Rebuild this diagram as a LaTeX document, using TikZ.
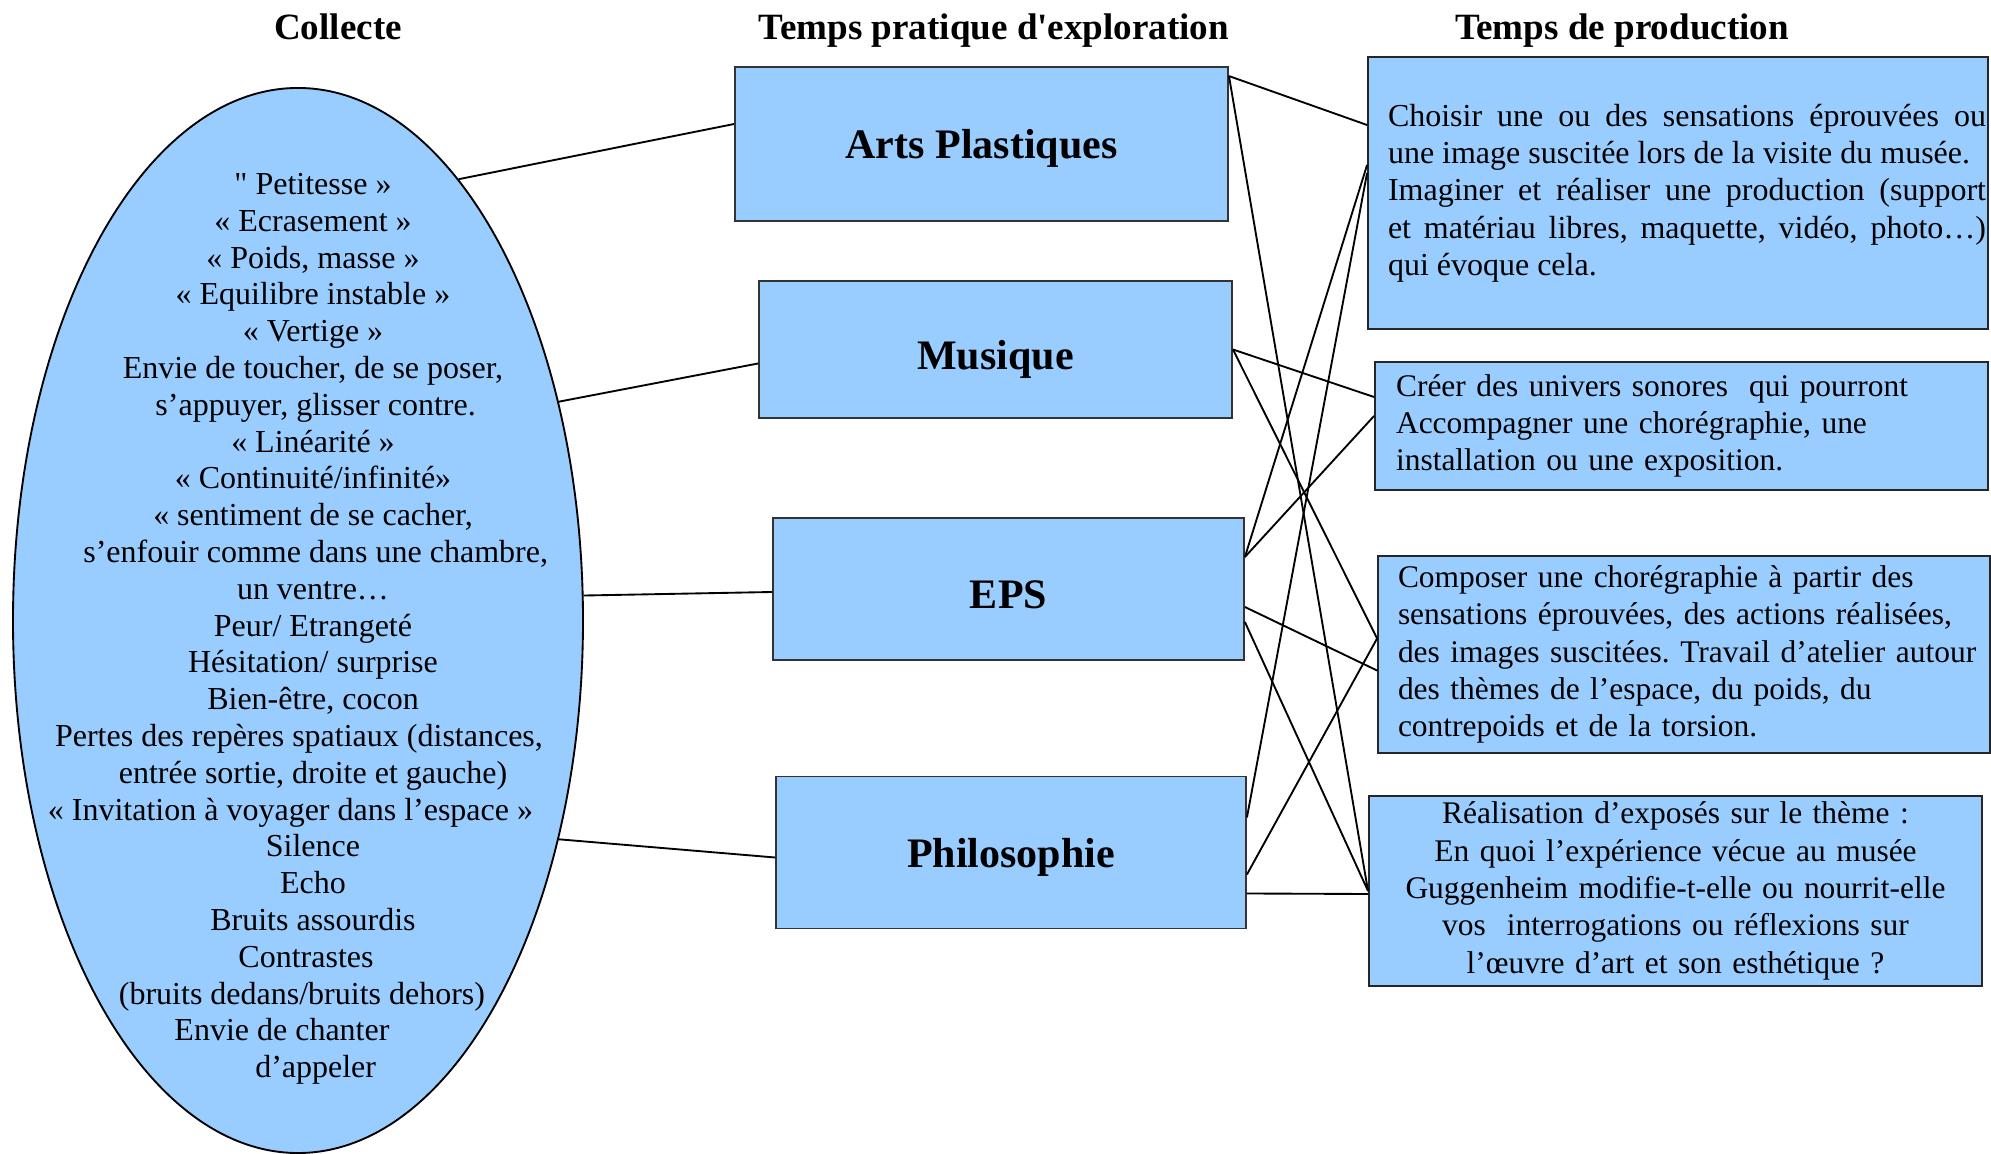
\documentclass[tikz,border=0pt]{standalone}
\usepackage{fontspec}
\setmainfont{Liberation Serif}[Ligatures=TeXOff]
\usetikzlibrary{shapes.geometric}
\definecolor{bleuciel}{HTML}{99CCFF}
\setlength{\parindent}{0pt}
\frenchspacing
\hyphenpenalty=10000

\begin{document}
\begin{tikzpicture}[x=0.375pt, y=-0.375pt,
        collecte/.style={ellipse, draw, fill=bleuciel, line width=0.7pt, minimum width=213.75pt, minimum height=399.4pt, inner sep=0pt},
        pratique/.style={rectangle, draw=black!80, fill=bleuciel, line width=0.7pt, inner sep=0pt, text depth=0pt, font=\fontsize{15.75}{18}\selectfont\bfseries},
        production/.style={rectangle, draw=black!85, fill=bleuciel, line width=0.7pt, inner sep=0pt, font=\fontsize{11.8}{14}\selectfont},
        entete/.style={anchor=base, inner sep=0pt, font=\fontsize{13.9}{16}\selectfont\bfseries},
        lien/.style={line width=0.7pt}]
    \useasboundingbox (0,0) rectangle (1991,1154);

    \node[entete] (tcoll) at (338,40) {Collecte};
    \node[entete] (texp) at (994,40) {Temps pratique d'exploration};
    \node[entete] (tprod) at (1622,40) {Temps de production};

    \node[collecte] (coll) at (298,620.5) {};
    \node[font=\fontsize{12}{13.8}\selectfont, align=center, inner sep=0pt] (colltxt) at (313,629) {" Petitesse »\\
        « Ecrasement »\\
        « Poids, masse »\\
        « Equilibre instable »\\
        « Vertige »\\
        Envie de toucher, de se poser,\\
        \kern2pt s’appuyer, glisser contre.\\
        « Linéarité »\\
        « Continuité/infinité»\\
        « sentiment de se cacher,\\
        \kern2pt s’enfouir comme dans une chambre,\\
        un ventre…\\
        Peur/ Etrangeté\\
        Hésitation/ surprise\\
        Bien-être, cocon\\
        Pertes des repères spatiaux (distances,\kern10.5pt\\
        entrée sortie, droite et gauche)\\
        « Invitation à voyager dans l’espace »\kern16.9pt\\
        Silence\\
        Echo\\
        Bruits assourdis\\
        Contrastes\kern5.25pt\\
        (bruits dedans/bruits dehors)\kern8.25pt\\
        Envie de chanter\kern23.25pt\\
        \kern2pt d’appeler};

    \node[pratique, minimum width=184.9pt, minimum height=57.75pt] (ap) at (981.5,144) {Arts Plastiques};
    \node[pratique, minimum width=177.4pt, minimum height=51.6pt, text height=15pt] (mus) at (995.5,349.5) {Musique};
    \node[pratique, minimum width=176.6pt, minimum height=53.4pt, text height=15pt] (eps) at (1008.5,589) {EPS};
    \node[pratique, minimum width=176.25pt, minimum height=57pt] (philo) at (1011,852.5) {Philosophie};

    \node[production, font=\fontsize{12}{14}\selectfont, minimum width=232.5pt, minimum height=102pt, text width=232.5pt, align=justify] (b1) at (1678,193)
        {\leftskip=7.5pt \rightskip=0.75pt Choisir une ou des sensations éprouvées ou\linebreak une image suscitée lors de la visite du musée.\par
        Imaginer et réaliser une production (support\linebreak et matériau libres, maquette, vidéo, photo…)\linebreak qui évoque cela.\par};
    \node[production, minimum width=229.9pt, minimum height=48pt, text width=229.9pt, align=left] (b2) at (1681.5,426)
        {\leftskip=7.9pt Créer des univers sonores~ qui pourront\\ Accompagner une chorégraphie, une\\ installation ou une exposition.\par};
    \node[production, minimum width=229.5pt, minimum height=73.9pt, text width=229.5pt, align=left] (b3) at (1684,654.5)
        {\leftskip=7.5pt Composer une chorégraphie à partir des\\ sensations éprouvées, des actions réalisées,\\ des images suscitées. Travail d’atelier autour\\ des thèmes de l’espace, du poids, du\\ contrepoids et de la torsion.\par};
    \node[production, minimum width=229.9pt, minimum height=71.25pt, text width=229.9pt, align=center] (b4) at (1675.5,891)
        {Réalisation d’exposés sur le thème :\\ En quoi l’expérience vécue au musée\\ Guggenheim modifie-t-elle ou nourrit-elle\\ vos~ interrogations ou réflexions sur\\ l’œuvre d’art et son esthétique ?};

    \path[lien]
        (coll.70) edge ([shift={(0,-20)}]ap.west)
        (coll.40) edge ([shift={(0,14)}]mus.west)
        (coll.5) edge ([shift={(0,3)}]eps.west)
        (coll.-40) edge ([shift={(0,5)}]philo.west)
        ([shift={(0,10)}]ap.north east) edge ([shift={(0,-68)}]b1.west)
            edge (b4.west)
        (mus.east) edge ([shift={(0,-29)}]b2.west)
            edge ([shift={(0,-16)}]b3.west)
        ([shift={(0,-32)}]eps.east) edge ([shift={(0,-28)}]b1.west)
            edge ([shift={(0,-10)}]b2.west)
        ([shift={(0,18)}]eps.east) edge ([shift={(0,16)}]b3.west)
        ([shift={(0,33)}]eps.east) edge (b4.west)
        ([shift={(0,-35)}]philo.east) edge ([shift={(0,-20)}]b1.west)
        ([shift={(0,22)}]philo.east) edge ([shift={(0,-16)}]b3.west)
        ([shift={(0,41)}]philo.east) edge ([shift={(0,3)}]b4.west);
\end{tikzpicture}
\end{document}
